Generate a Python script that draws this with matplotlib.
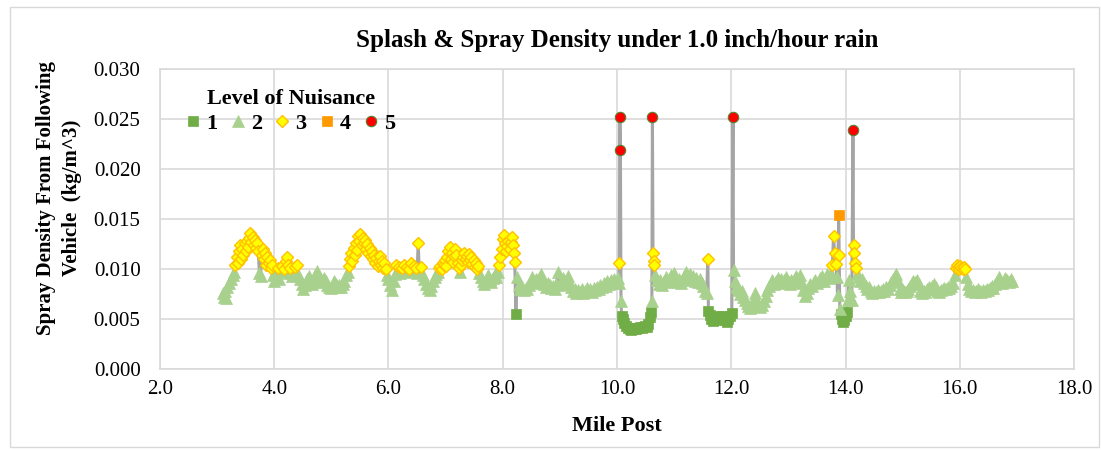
#!/usr/bin/env python3
"""Splash & spray density along the route, coloured by nuisance level."""
import matplotlib
matplotlib.use("Agg")
import matplotlib.pyplot as plt
from matplotlib.patches import Rectangle
import numpy as np

# ---- data ----
MILE_POST = [
    3.10, 3.12, 3.14, 3.16, 3.18, 3.21, 3.24, 3.27, 3.30,
    3.32, 3.34, 3.36, 3.38, 3.40, 3.42, 3.44, 3.46, 3.48, 3.50, 3.52,
    3.54, 3.56, 3.58, 3.60, 3.62, 3.64, 3.66, 3.68, 3.70, 3.72,
    3.74, 3.76, 3.78, 3.80, 3.82, 3.84, 3.86, 3.88, 3.90, 3.92, 3.94, 3.96,
    3.98, 4.00, 4.03, 4.06, 4.08, 4.11, 4.14, 4.17, 4.20, 4.22,
    4.24, 4.26, 4.28, 4.31, 4.34, 4.37, 4.40, 4.42, 4.45,
    4.48, 4.51, 4.54, 4.57, 4.60, 4.63, 4.66, 4.69, 4.72, 4.75,
    4.78, 4.81, 4.84, 4.87, 4.90, 4.93, 4.96, 4.99, 5.02, 5.05,
    5.08, 5.11, 5.14, 5.17, 5.20, 5.23, 5.26, 5.29,
    5.31, 5.33, 5.35, 5.37, 5.39, 5.41, 5.43, 5.45, 5.47, 5.49, 5.51,
    5.53, 5.55, 5.57, 5.59, 5.61, 5.63, 5.65, 5.67, 5.69, 5.71, 5.73,
    5.75, 5.77, 5.79, 5.81, 5.83, 5.85, 5.87, 5.89, 5.91, 5.93, 5.95,
    5.97, 6.00, 6.03, 6.06, 6.09, 6.12,
    6.14, 6.16, 6.18, 6.21, 6.24, 6.27, 6.30, 6.33, 6.36, 6.39,
    6.42, 6.45, 6.48, 6.50, 6.52, 6.54, 6.57, 6.60,
    6.63, 6.66, 6.69, 6.72, 6.75, 6.78, 6.81, 6.84, 6.87,
    6.89, 6.91, 6.93, 6.95, 6.97, 6.99, 7.01, 7.03, 7.05, 7.07, 7.09,
    7.11, 7.13, 7.15, 7.17, 7.19, 7.21, 7.23, 7.25, 7.27, 7.29, 7.31,
    7.33, 7.35, 7.37, 7.39, 7.41, 7.43, 7.45, 7.47, 7.49, 7.51, 7.53,
    7.55, 7.57,
    7.59, 7.62, 7.65, 7.68, 7.71, 7.74, 7.77, 7.80, 7.83, 7.86, 7.89, 7.92,
    7.94, 7.96, 7.98, 8.00, 8.02, 8.04, 8.06, 8.08, 8.10, 8.12, 8.14,
    8.16, 8.18, 8.20, 8.21, 8.23, 8.25,
    8.28, 8.31, 8.34, 8.37, 8.40, 8.43, 8.46, 8.49, 8.52, 8.55, 8.58,
    8.61, 8.64, 8.67, 8.70, 8.73, 8.76, 8.79, 8.82, 8.85, 8.88, 8.91,
    8.94, 8.97, 8.99, 9.02, 9.05, 9.08, 9.11, 9.14, 9.17, 9.20, 9.23,
    9.26, 9.29, 9.32, 9.35, 9.38, 9.41, 9.44, 9.47, 9.50, 9.53, 9.56,
    9.59, 9.62, 9.65, 9.68, 9.71, 9.74, 9.77, 9.80, 9.83, 9.86, 9.89,
    9.92, 9.95, 9.98, 10.01, 10.03,
    10.04, 10.05, 10.06, 10.07, 10.08,
    10.10, 10.13, 10.16, 10.19, 10.22, 10.25, 10.28, 10.31, 10.34, 10.37,
    10.40, 10.43, 10.46, 10.49, 10.52, 10.55, 10.58, 10.60,
    10.61, 10.62, 10.63, 10.64, 10.65,
    10.67, 10.70, 10.73, 10.76, 10.79, 10.82, 10.85, 10.88, 10.91, 10.94,
    10.97, 11.00, 11.03, 11.06, 11.09, 11.12, 11.15, 11.18, 11.21, 11.24,
    11.27, 11.30, 11.33, 11.36, 11.39, 11.42, 11.45, 11.48, 11.51, 11.54,
    11.57, 11.59, 11.60,
    11.62, 11.65, 11.68, 11.71, 11.74, 11.77, 11.80, 11.83, 11.86, 11.89,
    11.92, 11.95, 11.98, 12.01, 12.03, 12.04,
    12.06, 12.09, 12.12, 12.15, 12.18, 12.21, 12.24, 12.27, 12.30, 12.33,
    12.36, 12.39, 12.42, 12.45, 12.48, 12.51, 12.54, 12.57, 12.60, 12.63,
    12.66, 12.69, 12.72, 12.75, 12.78, 12.81, 12.84, 12.87, 12.90, 12.93,
    12.96, 12.99, 13.02, 13.05, 13.08, 13.11, 13.14, 13.17, 13.20, 13.23,
    13.26, 13.29, 13.32, 13.35, 13.38, 13.41, 13.44, 13.47, 13.50, 13.53,
    13.56, 13.59, 13.62, 13.65, 13.68, 13.71, 13.74,
    13.77, 13.79, 13.81, 13.83, 13.85, 13.86, 13.88, 13.89, 13.90, 13.92,
    13.94, 13.96, 13.98, 14.00, 14.02, 14.04, 14.06, 14.08, 14.11, 14.13,
    14.14, 14.15, 14.16, 14.18, 14.20,
    14.23, 14.26, 14.29, 14.32, 14.35, 14.38, 14.41, 14.44, 14.47, 14.50,
    14.53, 14.56, 14.59, 14.62, 14.65, 14.68, 14.71, 14.74, 14.77, 14.80,
    14.83, 14.86, 14.89, 14.92, 14.95, 14.98, 15.01, 15.04, 15.07, 15.10,
    15.13, 15.16, 15.19, 15.22, 15.25, 15.28, 15.31, 15.34, 15.37, 15.40,
    15.43, 15.46, 15.49, 15.52, 15.55, 15.58, 15.61, 15.64, 15.67, 15.70,
    15.73, 15.76, 15.79, 15.82, 15.85, 15.88, 15.91,
    15.93, 15.95, 15.97, 15.99, 16.01, 16.03, 16.05, 16.07, 16.09,
    16.11, 16.14, 16.17, 16.20, 16.23, 16.26, 16.29, 16.32, 16.35, 16.38,
    16.41, 16.44, 16.47, 16.50, 16.53, 16.56, 16.59, 16.62, 16.65, 16.68,
    16.71, 16.74, 16.77, 16.80, 16.83, 16.86, 16.89, 16.92,
]

DENSITY = [
    .0076, .0072, .0078, .0071, .0082, .0086, .0090, .0094, .0097,
    .0104, .0112, .0106, .0118, .0124, .0110, .0120, .0114, .0126, .0118, .0128,
    .0122, .0131, .0136, .0127, .0132, .0124, .0129, .0121, .0126, .0118,
    .0096, .0093, .0114, .0120, .0110, .0116, .0104, .0112, .0106, .0109, .0101, .0104,
    .0094, .0088, .0096, .0101, .0090, .0097, .0103, .0100, .0108, .0112,
    .0104, .0096, .0101, .0093, .0098, .0102, .0104, .0095, .0090,
    .0085, .0080, .0084, .0090, .0093, .0088, .0085, .0090, .0094, .0098,
    .0093, .0090, .0087, .0091, .0088, .0084, .0082, .0081, .0083, .0088,
    .0085, .0082, .0084, .0082, .0085, .0088, .0094, .0097,
    .0103, .0110, .0116, .0108, .0121, .0114, .0126, .0119, .0133, .0128, .0135,
    .0124, .0131, .0126, .0129, .0120, .0125, .0116, .0121, .0113, .0118, .0110,
    .0114, .0106, .0111, .0103, .0108, .0113, .0104, .0108, .0101, .0106, .0100,
    .0094, .0090, .0084, .0079, .0088, .0095,
    .0104, .0099, .0102, .0096, .0101, .0104, .0097, .0102, .0100, .0106,
    .0098, .0103, .0101, .0096, .0126, .0097, .0102, .0094,
    .0090, .0085, .0081, .0079, .0083, .0088, .0092, .0095, .0097,
    .0101, .0103, .0100, .0106, .0104, .0109, .0103, .0112, .0118, .0122, .0110,
    .0116, .0107, .0113, .0120, .0114, .0106, .0101, .0097, .0104, .0109, .0112,
    .0116, .0110, .0113, .0107, .0115, .0109, .0112, .0105, .0109, .0102, .0106,
    .0100, .0103,
    .0096, .0092, .0088, .0085, .0089, .0094, .0090, .0087, .0091, .0095, .0092, .0097,
    .0104, .0112, .0120, .0130, .0134, .0126, .0118, .0123, .0128, .0120, .0127,
    .0132, .0124, .0116, .0107, .0055, .0092,
    .0084, .0080, .0082, .0079, .0081, .0080, .0084, .0088, .0092, .0087, .0090,
    .0086, .0091, .0095, .0089, .0085, .0082, .0086, .0084, .0081, .0083, .0080,
    .0085, .0097, .0084, .0087, .0091, .0085, .0089, .0093, .0086, .0082, .0078,
    .0080, .0076, .0079, .0077, .0080, .0076, .0078, .0081, .0078, .0080, .0077,
    .0081, .0079, .0082, .0080, .0084, .0082, .0086, .0083, .0088, .0085, .0089,
    .0086, .0090, .0087, .0091, .0086,
    .0106, .0252, .0219, .0068, .0053,
    .0050, .0046, .0043, .0041, .0040, .0039, .0040, .0041, .0040, .0041,
    .0042, .0041, .0042, .0043, .0042, .0045, .0052, .0057,
    .0068, .0252, .0116, .0108, .0104,
    .0094, .0089, .0085, .0089, .0084, .0088, .0092, .0087, .0090, .0094,
    .0091, .0096, .0089, .0087, .0090, .0086, .0089, .0093, .0097, .0092,
    .0095, .0090, .0093, .0088, .0091, .0087, .0090, .0086, .0083, .0078,
    .0076, .0110, .0058,
    .0054, .0050, .0048, .0051, .0049, .0053, .0052, .0050, .0053, .0049,
    .0047, .0050, .0053, .0056, .0252, .0099,
    .0088, .0082, .0079, .0075, .0078, .0072, .0069, .0066, .0063, .0061,
    .0065, .0070, .0076, .0068, .0063, .0062, .0064, .0068, .0073, .0079,
    .0083, .0086, .0089, .0085, .0088, .0091, .0087, .0090, .0086, .0089,
    .0092, .0088, .0085, .0089, .0087, .0091, .0093, .0089, .0094, .0086,
    .0079, .0073, .0076, .0081, .0085, .0083, .0087, .0089, .0086, .0088,
    .0091, .0093, .0088, .0092, .0095, .0091, .0096,
    .0104, .0133, .0116, .0105, .0092, .0074, .0154, .0114, .0060, .0055,
    .0050, .0047, .0049, .0053, .0057, .0069, .0089, .0078, .0069, .0239,
    .0124, .0116, .0106, .0101, .0095,
    .0092, .0088, .0090, .0086, .0083, .0080, .0082, .0078, .0076, .0078,
    .0077, .0079, .0077, .0078, .0080, .0078, .0082, .0080, .0084, .0087,
    .0090, .0093, .0095, .0088, .0080, .0077, .0079, .0077, .0078, .0080,
    .0083, .0086, .0088, .0087, .0089, .0085, .0078, .0076, .0078, .0077,
    .0080, .0082, .0080, .0083, .0085, .0082, .0078, .0077, .0079, .0080,
    .0081, .0080, .0082, .0081, .0083, .0086, .0094,
    .0101, .0104, .0102, .0100, .0103, .0101, .0100, .0102, .0100,
    .0092, .0085, .0080, .0078, .0079, .0077, .0078, .0080, .0078, .0077,
    .0079, .0078, .0080, .0079, .0081, .0083, .0081, .0085, .0088, .0092,
    .0089, .0086, .0088, .0091, .0089, .0087, .0090, .0088,
]

# upper density bound of nuisance levels 1..4 (level 5 above the last one)
LEVEL_BOUNDS = [0.006, 0.010, 0.015, 0.020]
LEVEL_LABELS = ["1", "2", "3", "4", "5"]

X_TICKS = [2, 4, 6, 8, 10, 12, 14, 16, 18]
Y_TICKS = [0.000, 0.005, 0.010, 0.015, 0.020, 0.025, 0.030]

# ---- style ----
FONT = ["Liberation Serif", "DejaVu Serif"]
GRID = "#D9D9D9"
LINE = "#A5A5A5"
MARKERS = [
    dict(marker="s", ms=7.5, mfc="#70AD47", mec="#70AD47", mew=0.5),
    dict(marker="^", ms=8.5, mfc="#A9D18E", mec="#A9D18E", mew=0.5),
    dict(marker="D", ms=6.2, mfc="#FFFF00", mec="#FFC000", mew=1.0),
    dict(marker="s", ms=7.5, mfc="#FF9900", mec="#FF9900", mew=0.5),
    dict(marker="o", ms=7.5, mfc="#FF0000", mec="#548235", mew=0.8),
]


def main():
    plt.rcParams["font.family"] = FONT
    miles = np.array(MILE_POST)
    dens = np.array(DENSITY)
    level = np.digitize(dens, LEVEL_BOUNDS)

    fig = plt.figure(figsize=(11.01, 4.5), dpi=100)
    ax = fig.add_axes([0.1453, 0.18, 0.8302, 0.6667])

    # outer chart border
    fig.patches.append(Rectangle((0.009, 0.006), 0.989, 0.978, transform=fig.transFigure,
                                 fill=False, edgecolor=GRID, lw=1.0))

    ax.plot(miles, dens, color=LINE, lw=2.2, zorder=2)
    for i, style in enumerate(MARKERS):
        sel = level == i
        ax.plot(miles[sel], dens[sel], ls="none", label=LEVEL_LABELS[i], zorder=3 + i, **style)

    ax.set_xlim(X_TICKS[0], X_TICKS[-1])
    ax.set_ylim(Y_TICKS[0], Y_TICKS[-1])
    ax.set_xticks(X_TICKS)
    ax.set_yticks(Y_TICKS)
    ax.set_xticklabels([f"{v:.1f}" for v in X_TICKS])
    ax.set_yticklabels([f"{v:.3f}" for v in Y_TICKS])
    ax.tick_params(axis="both", length=0, labelsize=15)
    ax.tick_params(axis="x", pad=8)
    ax.tick_params(axis="y", pad=14)
    ax.grid(True, color=GRID, lw=1.2, zorder=0)
    ax.set_axisbelow(True)
    for side in ax.spines.values():
        side.set_color(GRID)
        side.set_linewidth(1.2)

    ax.set_title("Splash & Spray Density under 1.0 inch/hour rain",
                 fontsize=18, fontweight="bold", pad=16)
    ax.set_xlabel("Mile Post", fontsize=16, fontweight="bold", labelpad=12)
    fig.text(0.054, 0.56, "Spray Density From Following\nVehicle  (kg/m^3)",
             rotation=90, ha="center", va="center", multialignment="center",
             fontsize=15, fontweight="bold", linespacing=1.4)

    leg = ax.legend(loc="upper left", bbox_to_anchor=(0.012, 0.985), ncol=5,
                    frameon=False, title="Level of Nuisance",
                    handlelength=0.6, handletextpad=0.3, columnspacing=0.6,
                    borderpad=0.2, labelspacing=0.2,
                    prop=dict(family=FONT, weight="bold", size=16),
                    title_fontproperties=dict(family=FONT, weight="bold", size=16))
    leg.set_zorder(10)

    fig.savefig("out.png", dpi=100, facecolor="white")
    plt.close(fig)


if __name__ == "__main__":
    main()
